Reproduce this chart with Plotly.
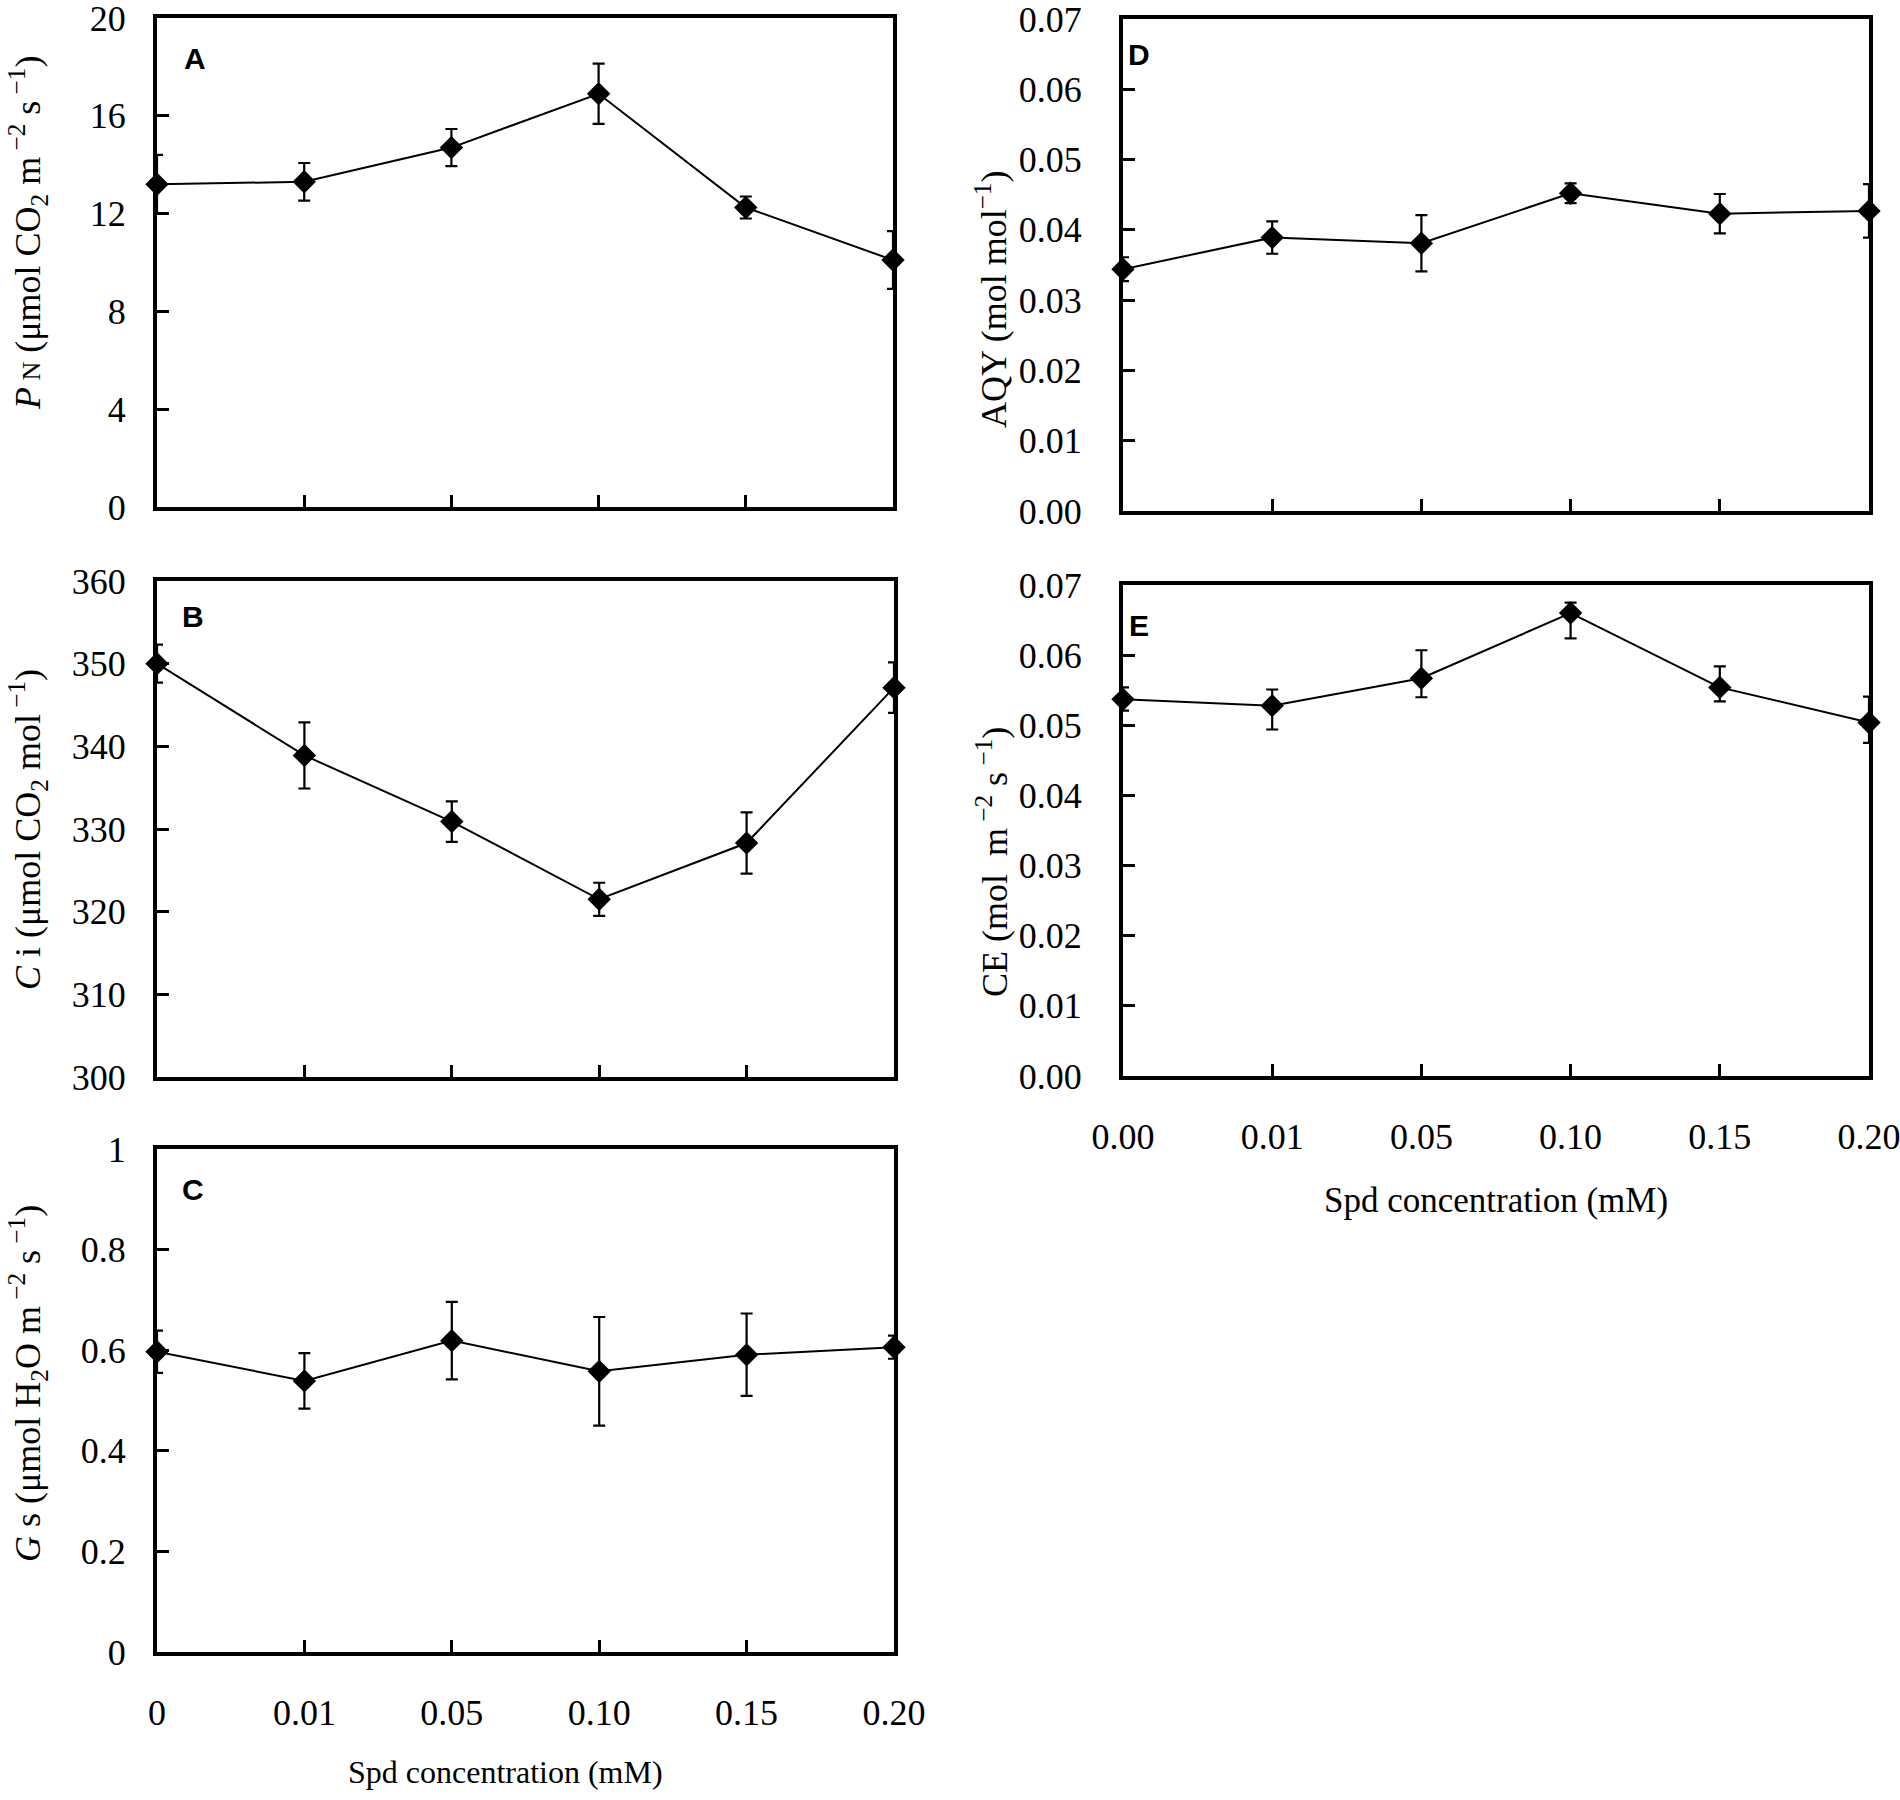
import plotly.graph_objects as go

# ---------------- data ----------------
x_pos = [0, 1, 2, 3, 4, 5]
x_labels_c = ["0", "0.01", "0.05", "0.10", "0.15", "0.20"]
x_labels_e = ["0.00", "0.01", "0.05", "0.10", "0.15", "0.20"]

pn_mean = [13.2, 13.3, 14.7, 16.9, 12.25, 10.1]
pn_err = [1.2, 0.77, 0.76, 1.23, 0.45, 1.18]

ci_mean = [350.0, 338.9, 330.9, 321.5, 328.3, 347.1]
ci_err = [2.3, 4.0, 2.45, 2.0, 3.7, 3.05]

gs_mean = [0.597, 0.539, 0.619, 0.558, 0.591, 0.606]
gs_err = [0.042, 0.055, 0.077, 0.108, 0.082, 0.023]

aqy_mean = [0.0344, 0.0389, 0.0381, 0.0452, 0.0423, 0.0427]
aqy_err = [0.0017, 0.0023, 0.0040, 0.0014, 0.0028, 0.0038]

ce_mean = [0.0537, 0.0528, 0.0567, 0.0660, 0.0554, 0.0504]
ce_err_plus = [0.0017, 0.0023, 0.0040, 0.0015, 0.0030, 0.0037]
ce_err_minus = [0.0016, 0.0034, 0.0027, 0.0036, 0.0020, 0.0029]

# body margin is removed by a post script, so the figure fills the page
FW, FH = 1900, 1800
SERIF = "Liberation Serif"

# panel boxes in page pixels: (left, right, top, bottom)
boxes = {
    "A": (157, 893, 18, 507),
    "B": (157, 894, 581, 1077),
    "C": (157, 894, 1149, 1652),
    "D": (1123, 1869, 19, 511),
    "E": (1123, 1869, 585, 1076),
}

def xd(l, r):
    return [l / FW, r / FW]

def yd(t, b):
    return [1 - b / FH, 1 - t / FH]

fig = go.Figure()

panels = [
    ("A", pn_mean, pn_err, pn_err),
    ("B", ci_mean, ci_err, ci_err),
    ("C", gs_mean, gs_err, gs_err),
    ("D", aqy_mean, aqy_err, aqy_err),
    ("E", ce_mean, ce_err_plus, ce_err_minus),
]

for i, (name, mean, ep, em) in enumerate(panels, start=1):
    fig.add_trace(go.Scatter(
        x=x_pos, y=mean,
        mode="lines+markers",
        line=dict(color="black", width=2),
        marker=dict(symbol="diamond", size=18, color="black"),
        error_y=dict(type="data", array=ep, arrayminus=em, symmetric=False,
                     color="black", thickness=2.2, width=6),
        cliponaxis=False,
        showlegend=False,
        xaxis=f"x{i}", yaxis=f"y{i}",
    ))

axis_common = dict(
    showgrid=False, zeroline=False, showline=True, mirror=True,
    linecolor="black", linewidth=4, automargin=False,
    ticks="inside", ticklen=12, tickwidth=3, tickcolor="black",
    ticklabeloverflow="allow",
    tickfont=dict(family=SERIF, size=36, color="black"),
)

yranges = {
    "A": dict(range=[0, 20], tickvals=[0, 4, 8, 12, 16, 20]),
    "B": dict(range=[300, 360], tickvals=[300, 310, 320, 330, 340, 350, 360]),
    "C": dict(range=[0, 1], tickvals=[0, 0.2, 0.4, 0.6, 0.8, 1],
              ticktext=["0", "0.2", "0.4", "0.6", "0.8", "1"]),
    "D": dict(range=[0, 0.07], tickvals=[0, 0.01, 0.02, 0.03, 0.04, 0.05, 0.06, 0.07],
              tickformat=".2f"),
    "E": dict(range=[0, 0.07], tickvals=[0, 0.01, 0.02, 0.03, 0.04, 0.05, 0.06, 0.07],
              tickformat=".2f"),
}
ystandoff = {"A": 20, "B": 20, "C": 20, "D": 30, "E": 30}

layout_axes = {}
for i, (name, *_rest) in enumerate(panels, start=1):
    l, r, t, b = boxes[name]
    xa = dict(axis_common, domain=xd(l, r), range=[0, 5], anchor=f"y{i}",
              tickvals=x_pos, ticklabelstandoff=26)
    if name == "C":
        xa["ticktext"] = x_labels_c
        xa["showticklabels"] = True
    elif name == "E":
        xa["ticktext"] = x_labels_e
        xa["showticklabels"] = True
    else:
        xa["showticklabels"] = False
    ya = dict(axis_common, domain=yd(t, b), anchor=f"x{i}",
              ticklabelstandoff=ystandoff[name], **yranges[name])
    layout_axes["xaxis" if i == 1 else f"xaxis{i}"] = xa
    layout_axes["yaxis" if i == 1 else f"yaxis{i}"] = ya

fig.update_layout(
    width=FW, height=FH,
    margin=dict(l=0, r=0, t=0, b=0, autoexpand=False),
    paper_bgcolor="white", plot_bgcolor="white",
    **layout_axes,
)

def px_ann(text, x, y, angle=0, size=36, family=SERIF, xanchor="center", yanchor="middle"):
    fig.add_annotation(
        text=text, x=x / FW, y=1 - y / FH, xref="paper", yref="paper",
        showarrow=False, textangle=angle, xanchor=xanchor, yanchor=yanchor,
        font=dict(family=family, size=size, color="black"),
    )

# y axis titles
px_ann("<i>P</i><span style='font-size:26px'> N</span> (μmol CO<sub>2</sub> m<sup> −2</sup> s<sup> −1</sup>)",
       28, 233, angle=-90)
px_ann("<i>C</i> i (μmol CO<sub>2</sub> mol<sup> −1</sup>)", 28, 830, angle=-90)
px_ann("<i>G</i> s (μmol H<sub>2</sub>O m<sup> −2</sup> s<sup> −1</sup>)", 28, 1384, angle=-90)
px_ann("AQY (mol mol<sup>−1</sup>)", 992, 300, angle=-90)
px_ann("CE (mol  m<sup> −2</sup> s<sup> −1</sup>)", 992, 862, angle=-90)

# x axis titles
px_ann("Spd concentration (mM)", 505, 1772, size=32)
px_ann("Spd concentration (mM)", 1496, 1200, size=35)

# panel letters
for name, (x, y) in {"A": (195, 58), "B": (193, 616), "C": (193, 1189),
                     "D": (1139, 54), "E": (1139, 626)}.items():
    px_ann(f"<b>{name}</b>", x, y, size=30, family="Liberation Sans")

fig.write_html(
    "out.html",
    config={"displayModeBar": False},
    post_script="document.body.style.margin='0';document.body.style.overflow='hidden';",
)
